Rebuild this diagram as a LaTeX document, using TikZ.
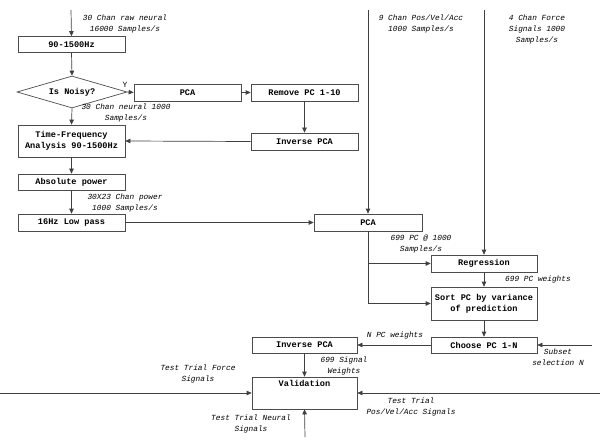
\documentclass[tikz,border=0pt]{standalone}
\usepackage{fontspec}
\setmonofont{Liberation Mono}
\usetikzlibrary{arrows.meta,shapes.geometric}
\begin{document}
\begin{tikzpicture}[x=1pt,y=-1pt,
  box/.style={draw=black!70,line width=0.7pt,rectangle,inner sep=0pt,align=center,
    font=\ttfamily\bfseries\fontsize{8.6}{11}\selectfont},
  lbl/.style={align=center,inner sep=0pt,font=\ttfamily\itshape\fontsize{7.8}{11}\selectfont},
  arr/.style={draw=black!75,line width=0.7pt,-{Triangle[length=5pt,width=4.5pt]}},
  ln/.style={draw=black!75,line width=0.7pt}]
\useasboundingbox (0,0) rectangle (600,441);
% left column
\node[box,minimum width=107pt,minimum height=16pt] (bp) at (71.5,44.5) {90-1500Hz};
\node[box,diamond,aspect=3.5,minimum width=110pt,minimum height=32pt,inner sep=0pt] (noisy) at (72,92) {Is Noisy?};
\node[box,minimum width=107pt,minimum height=17pt] (pca1) at (187.5,92.5) {PCA};
\node[box,minimum width=107pt,minimum height=17pt] (rem) at (304.5,92.5) {Remove PC 1-10};
\node[box,minimum width=107pt,minimum height=17pt] (ipca1) at (304.5,141.5) {Inverse PCA};
\node[box,minimum width=107pt,minimum height=32pt] (tf) at (71.5,141) {Time-Frequency\\Analysis 90-1500Hz};
\node[box,minimum width=107pt,minimum height=16pt] (abs) at (71.5,182) {Absolute power};
\node[box,minimum width=107pt,minimum height=17pt] (lp) at (71.5,222.5) {16Hz Low pass};
% right column
\node[box,minimum width=108pt,minimum height=17pt] (pca2) at (368,222.5) {PCA};
\node[box,minimum width=106pt,minimum height=17pt] (reg) at (484,263.5) {Regression};
\node[box,minimum width=106pt,minimum height=33pt] (sort) at (484,303.5) {Sort PC by variance\\of prediction};
\node[box,minimum width=106pt,minimum height=16pt] (choose) at (484,345) {Choose PC 1-N};
\node[box,minimum width=105pt,minimum height=16pt] (ipca2) at (304.5,345) {Inverse PCA};
\node[box,minimum width=105pt,minimum height=32pt] (val) at (304.5,393) {};
\node[box,draw=none,anchor=north] (valt) at (304.5,380) {Validation};
% free ends
\coordinate (in1) at (71,10);
\coordinate (in2) at (368,10);
\coordinate (in3) at (484,10);
\coordinate (insub) at (592,345);
\coordinate (inl) at (0,393);
\coordinate (inr) at (600,393);
\coordinate (inb) at (305,437);
\coordinate (br1) at (368,263.5);
\coordinate (br2) at (368,303.5);
% connectors
\draw[arr] (in1) -- (bp.north);
\draw[arr] (bp.south) -- (noisy.north);
\draw[arr] (noisy.east) -- (pca1.west);
\draw[arr] (pca1.east) -- (rem.west);
\draw[arr] (rem.south) -- (ipca1.north);
\draw[arr] (ipca1.west) -- (tf.east);
\draw[arr] (noisy.south) -- (tf.north);
\draw[arr] (tf.south) -- (abs.north);
\draw[arr] (abs.south) -- (lp.north);
\draw[arr] (lp.east) -- (pca2.west);
\draw[arr] (in2) -- (pca2.north);
\draw[arr] (in3) -- (reg.north);
\draw[ln] (pca2.south) -- (br2);
\draw[arr] (br1) -- (reg.west);
\draw[arr] (br2) -- (sort.west);
\draw[arr] (reg.south) -- (sort.north);
\draw[arr] (sort.south) -- (choose.north);
\draw[arr] (choose.west) -- (ipca2.east);
\draw[arr] (insub) -- (choose.east);
\draw[arr] (ipca2.south) -- (val.north);
\draw[arr] (inl) -- (val.west);
\draw[arr] (inr) -- (val.east);
\draw[arr] (inb) -- (val.south);
% labels
\node[box,draw=none,font=\ttfamily\fontsize{8}{10}\selectfont] (y) at (125,85) {Y};
\node[lbl] (l1) at (125,23.5) {30 Chan raw neural\\16000 Samples/s};
\node[lbl] (l2) at (126,113) {30 Chan neural 1000\\Samples/s};
\node[lbl] (l3) at (125,202.5) {30X23 Chan power\\1000 Samples/s};
\node[lbl] (l4) at (421,23.5) {9 Chan Pos/Vel/Acc\\1000 Samples/s};
\node[lbl] (l5) at (537,29) {4 Chan Force\\Signals 1000\\Samples/s};
\node[lbl] (l6) at (421,243.5) {699 PC @ 1000\\Samples/s};
\node[lbl] (l7) at (538,279) {699 PC weights};
\node[lbl] (l8) at (395,335) {N PC weights};
\node[lbl] (l9) at (344,366) {699 Signal\\Weights};
\node[lbl] (l10) at (558,357.5) {Subset\\selection N};
\node[lbl] (l11) at (198,374) {Test Trial Force\\Signals};
\node[lbl] (l12) at (411,407) {Test Trial\\Pos/Vel/Acc Signals};
\node[lbl] (l13) at (251,424) {Test Trial Neural\\Signals};
\end{tikzpicture}
\end{document}
